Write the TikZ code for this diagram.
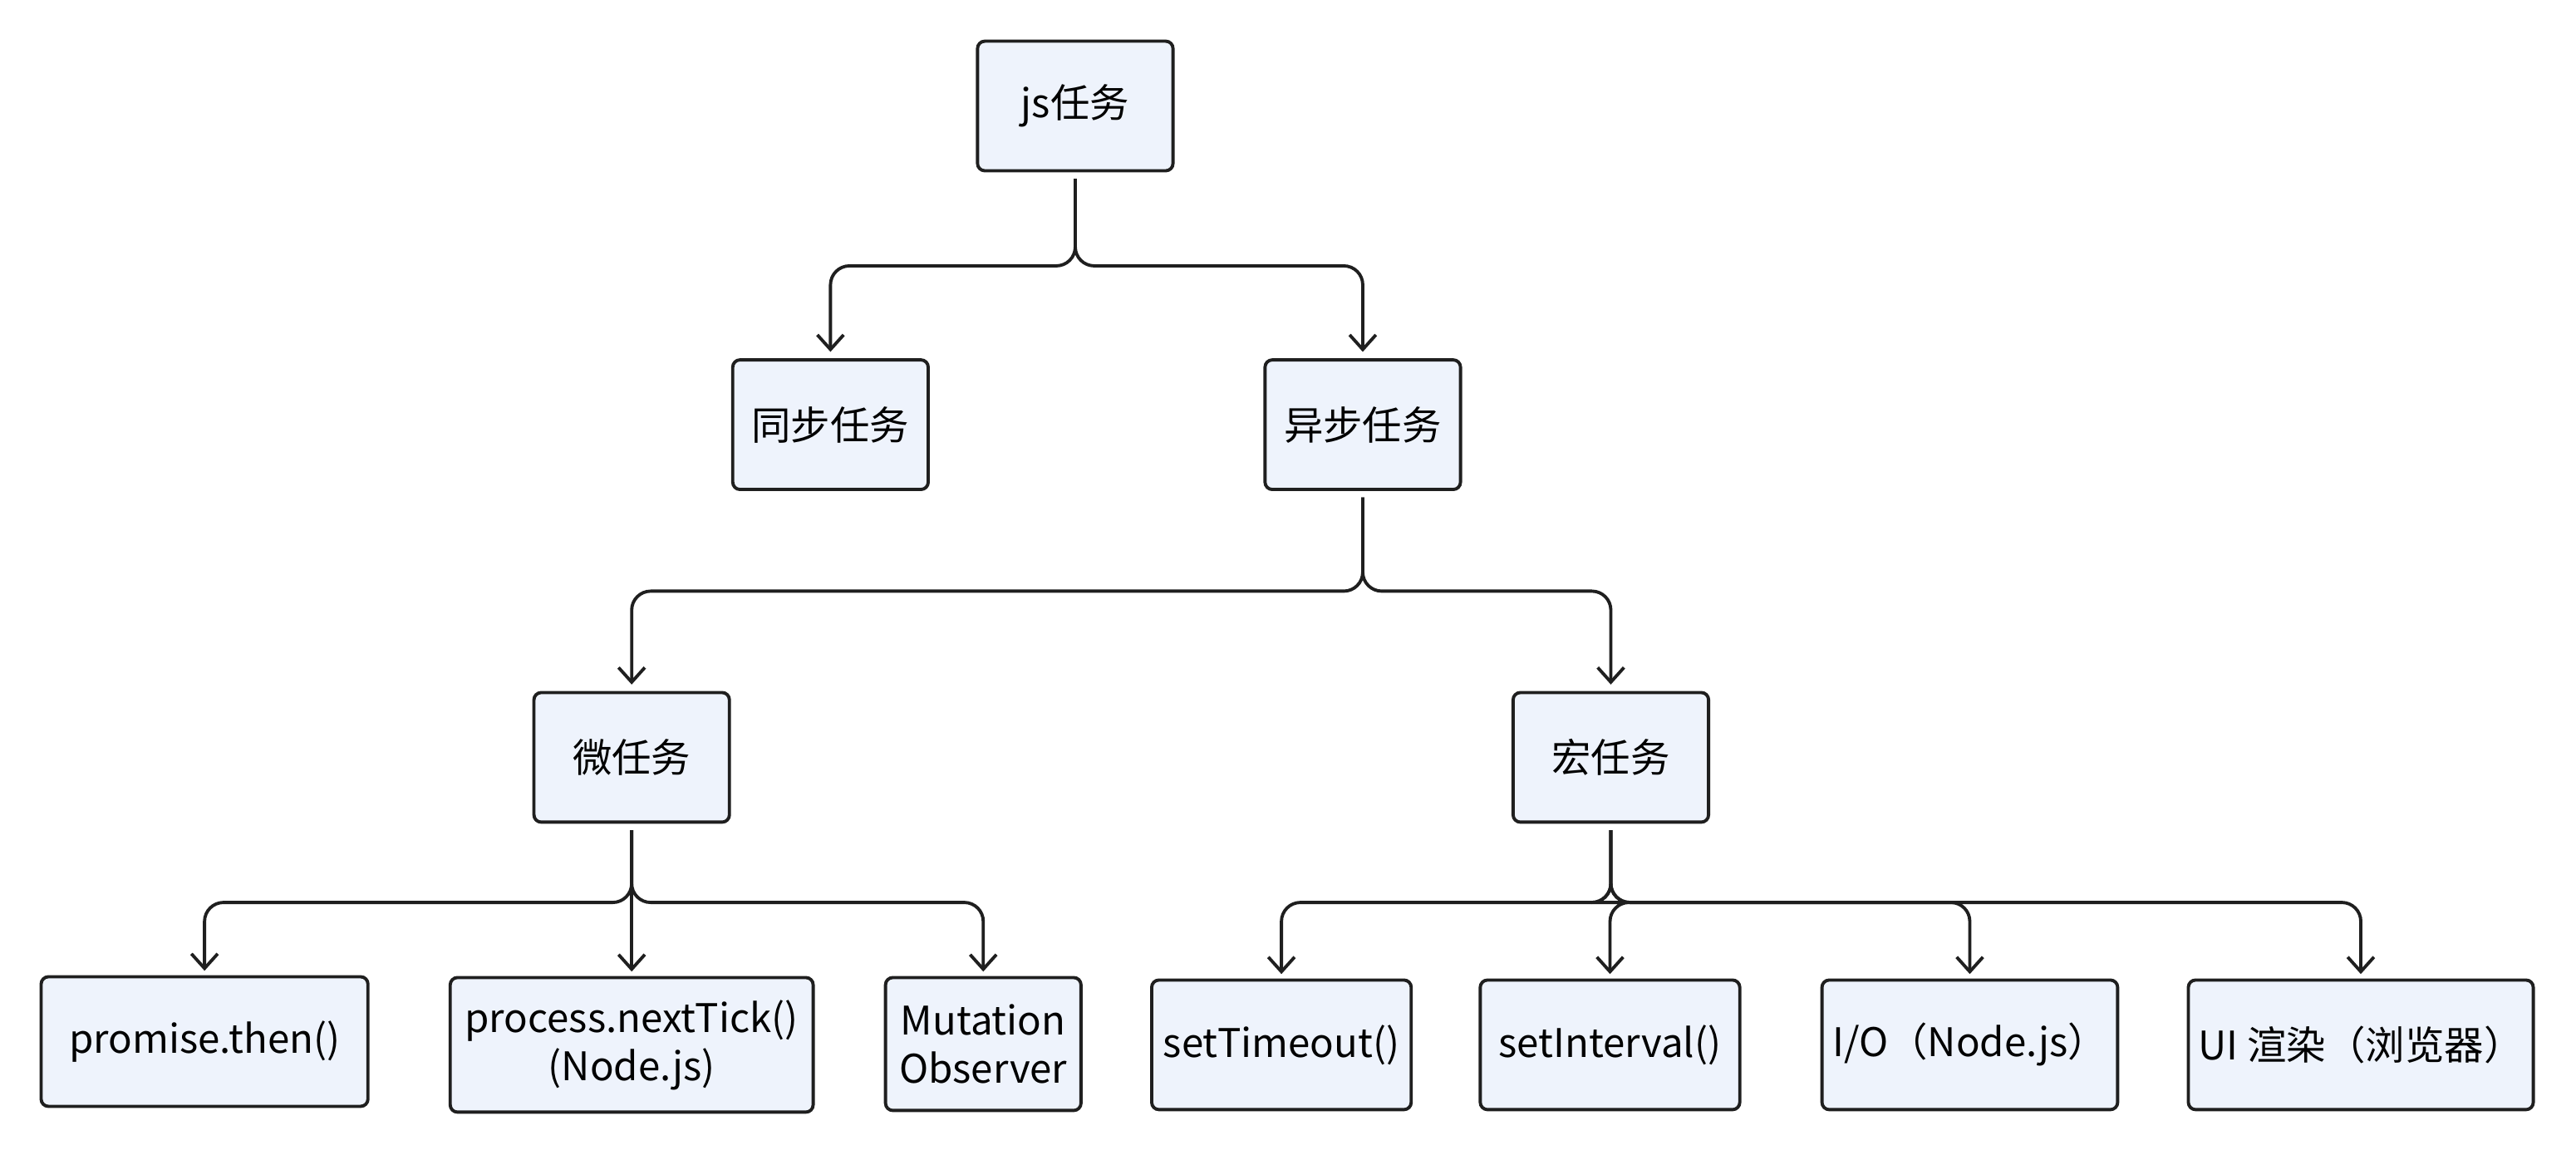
\documentclass[tikz,border=0pt]{standalone}
\usepackage{fontspec}
\setmainfont{Noto Sans CJK SC}
\usetikzlibrary{arrows.meta}
\definecolor{boxfill}{HTML}{EEF3FC}
\definecolor{boxline}{HTML}{1F1F1F}
\tikzset{
	task/.style={draw=boxline, fill=boxfill, line width=1.1pt, rounded corners=2.5pt,
		minimum width=2.353cm, minimum height=1.56cm, inner sep=2pt, align=center,
		font=\fontsize{13.5}{16.5}\selectfont},
	conn/.style={draw=boxline, line width=1.1pt, rounded corners=6.5pt,
		-{Straight Barb[length=5pt,width=9pt]}}
}
\begin{document}
\begin{tikzpicture}[x=0.01977cm, y=-0.01977cm]
	\useasboundingbox (0,0) rectangle (1568,703);
	
	% levels 1 and 2
	\node[task] (js) at (654.5,64.5) {js任务};
	\node[task] (sync) at (505.5,258.5) {同步任务};
	\node[task] (async) at (829.5,258.5) {异步任务};
	
	% level 3
	\node[task] (micro) at (384.5,461) {微任务};
	\node[task] (macro) at (980.5,461) {宏任务};
	
	% level 4
	\node[task, minimum width=3.934cm] (promise) at (124.5,634) {promise.then()};
	\node[task, minimum width=4.369cm, minimum height=1.62cm] (tick) at (384.5,636) {process.nextTick()\\(Node.js)};
	\node[task, minimum height=1.6cm] (mutation) at (598.5,635.5) {Mutation\\Observer};
	\node[task, minimum width=3.124cm] (timeout) at (780,636) {setTimeout()};
	\node[task, minimum width=3.124cm] (interval) at (980,636) {setInterval()};
	\node[task, minimum width=3.559cm] (io) at (1199,636) {I/O（Node.js）};
	\node[task, minimum width=4.152cm] (ui) at (1437,636) {UI 渲染（浏览器）};
	
	% connectors
	\foreach \c in {sync,async}
		\draw[conn] ([yshift=-2.2pt]js.south) -- ++(0,53) -| ([yshift=2.2pt]\c.north);
	\foreach \c in {micro,macro}
		\draw[conn] ([yshift=-2.2pt]async.south) -- ++(0,57) -| ([yshift=2.2pt]\c.north);
	\foreach \c in {promise,tick,mutation}
		\draw[conn] ([yshift=-2.2pt]micro.south) -- ++(0,44) -| ([yshift=1.5pt]\c.north);
	\foreach \c in {timeout,interval,io,ui}
		\draw[conn] ([yshift=-2.2pt]macro.south) -- ++(0,44) -| ([yshift=1.5pt]\c.north);
\end{tikzpicture}
\end{document}
